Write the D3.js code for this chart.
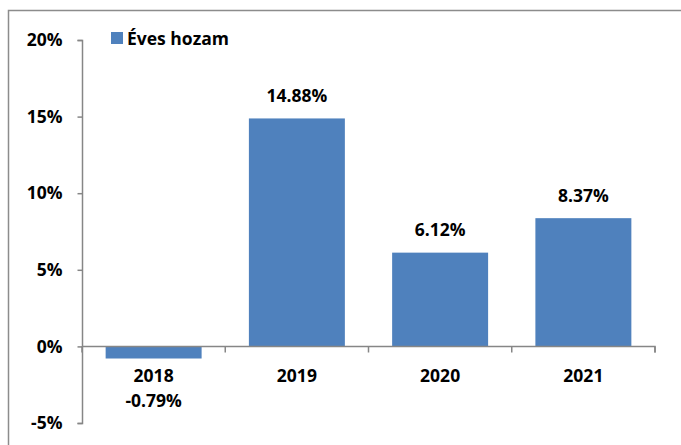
<!DOCTYPE html>
<html><head><meta charset="utf-8">
<script src="https://cdn.jsdelivr.net/npm/d3@7"></script>
<style>body{margin:0;background:#fff}svg{display:block}text{font-family:"Open Sans",sans-serif;font-weight:bold;fill:#000}</style>
</head><body><svg id="c" width="681" height="445"></svg>
<script>
const categories = ["2018","2019","2020","2021"];
const values = [-0.79, 14.88, 6.12, 8.37];
const labels = ["-0.79%","14.88%","6.12%","8.37%"];
const yTicks = [-5,0,5,10,15,20];
const seriesName = "Éves hozam";

const svg = d3.select("#c");
const W=681,H=445, FS="17.5px";
svg.append("rect").attr("x",0).attr("y",0).attr("width",W).attr("height",H).attr("fill","#fff");
svg.append("path").attr("d","M8.5,446 V10.5 H682").attr("fill","none").attr("stroke","#8c8c8c").attr("stroke-width",1.5);

const x = d3.scaleBand().domain(categories).range([82,655]).paddingInner(0.33).paddingOuter(0.165);
const y = d3.scaleLinear().domain([-5,20]).range([423,40]);
const color="#4F81BD", axisColor="#868686";

svg.selectAll("rect.bar").data(values).enter().append("rect")
  .attr("x",(d,i)=>x(categories[i])).attr("width",x.bandwidth())
  .attr("y",d=>y(Math.max(0,d))).attr("height",d=>Math.abs(y(d)-y(0)))
  .attr("fill",color);

const ya = svg.append("g").attr("transform","translate(82.5,0)")
  .call(d3.axisLeft(y).tickValues(yTicks).tickSize(5).tickFormat(d=>d+"%").tickPadding(15));
ya.select(".domain").attr("stroke",axisColor).attr("stroke-width",1.5).attr("d","M-5,40.5H0V423.5H-5");
ya.selectAll(".tick line").attr("stroke",axisColor).attr("stroke-width",1.5);
ya.selectAll(".tick text").style("font-size",FS).attr("font-family","Open Sans").attr("font-weight","bold").attr("fill","#000");

const xa = svg.append("g").attr("transform",`translate(0,${Math.round(y(0))+0.5})`)
  .call(d3.axisBottom(x).tickSize(0).tickFormat(""));
xa.select(".domain").attr("stroke",axisColor).attr("stroke-width",1.5).attr("d","M82,0H655V6");
[0,1,2,3,4].forEach(i=>{
  const tx = 82 + i*(573/4);
  xa.append("line").attr("x1",tx).attr("x2",tx).attr("y1",0).attr("y2",6).attr("stroke",axisColor).attr("stroke-width",1.5);
});
categories.forEach((c,i)=>{
  svg.append("text").attr("x",x(c)+x.bandwidth()/2).attr("y",381.5).attr("text-anchor","middle").style("font-size",FS).text(c);
});

values.forEach((v,i)=>{
  const cx = x(categories[i])+x.bandwidth()/2;
  const ty = v>=0 ? y(v)-16.5 : 406.5;
  svg.append("text").attr("x",cx).attr("y",ty).attr("text-anchor","middle").style("font-size",FS).text(labels[i]);
});

svg.append("rect").attr("x",111).attr("y",32).attr("width",12).attr("height",12).attr("fill",color);
svg.append("text").attr("x",127).attr("y",44.5).style("font-size",FS).text(seriesName);
</script></body></html>
